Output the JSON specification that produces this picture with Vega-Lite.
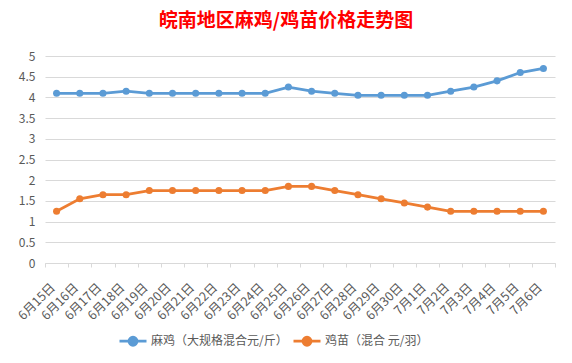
{
  "$schema": "https://vega.github.io/schema/vega-lite/v6.json",
  "autosize": "none",
  "width": 510,
  "height": 207,
  "padding": {"left": 45, "top": 56, "right": 17, "bottom": 100},
  "background": "white",
  "config": {
    "font": "Noto Sans CJK SC",
    "view": {"stroke": null}
  },
  "title": {
    "text": "皖南地区麻鸡/鸡苗价格走势图",
    "color": "#FF0000",
    "fontSize": 19,
    "fontWeight": "bold",
    "font": "Noto Sans CJK SC",
    "anchor": "middle",
    "dx": -14,
    "offset": 19
  },
  "data": {
    "values": [
      {"date": "6月15日", "series": "麻鸡（大规格混合元/斤）", "price": 4.1},
      {"date": "6月16日", "series": "麻鸡（大规格混合元/斤）", "price": 4.1},
      {"date": "6月17日", "series": "麻鸡（大规格混合元/斤）", "price": 4.1},
      {"date": "6月18日", "series": "麻鸡（大规格混合元/斤）", "price": 4.15},
      {"date": "6月19日", "series": "麻鸡（大规格混合元/斤）", "price": 4.1},
      {"date": "6月20日", "series": "麻鸡（大规格混合元/斤）", "price": 4.1},
      {"date": "6月21日", "series": "麻鸡（大规格混合元/斤）", "price": 4.1},
      {"date": "6月22日", "series": "麻鸡（大规格混合元/斤）", "price": 4.1},
      {"date": "6月23日", "series": "麻鸡（大规格混合元/斤）", "price": 4.1},
      {"date": "6月24日", "series": "麻鸡（大规格混合元/斤）", "price": 4.1},
      {"date": "6月25日", "series": "麻鸡（大规格混合元/斤）", "price": 4.25},
      {"date": "6月26日", "series": "麻鸡（大规格混合元/斤）", "price": 4.15},
      {"date": "6月27日", "series": "麻鸡（大规格混合元/斤）", "price": 4.1},
      {"date": "6月28日", "series": "麻鸡（大规格混合元/斤）", "price": 4.05},
      {"date": "6月29日", "series": "麻鸡（大规格混合元/斤）", "price": 4.05},
      {"date": "6月30日", "series": "麻鸡（大规格混合元/斤）", "price": 4.05},
      {"date": "7月1日", "series": "麻鸡（大规格混合元/斤）", "price": 4.05},
      {"date": "7月2日", "series": "麻鸡（大规格混合元/斤）", "price": 4.15},
      {"date": "7月3日", "series": "麻鸡（大规格混合元/斤）", "price": 4.25},
      {"date": "7月4日", "series": "麻鸡（大规格混合元/斤）", "price": 4.4},
      {"date": "7月5日", "series": "麻鸡（大规格混合元/斤）", "price": 4.6},
      {"date": "7月6日", "series": "麻鸡（大规格混合元/斤）", "price": 4.7},
      {"date": "6月15日", "series": "鸡苗（混合 元/羽）", "price": 1.25},
      {"date": "6月16日", "series": "鸡苗（混合 元/羽）", "price": 1.55},
      {"date": "6月17日", "series": "鸡苗（混合 元/羽）", "price": 1.65},
      {"date": "6月18日", "series": "鸡苗（混合 元/羽）", "price": 1.65},
      {"date": "6月19日", "series": "鸡苗（混合 元/羽）", "price": 1.75},
      {"date": "6月20日", "series": "鸡苗（混合 元/羽）", "price": 1.75},
      {"date": "6月21日", "series": "鸡苗（混合 元/羽）", "price": 1.75},
      {"date": "6月22日", "series": "鸡苗（混合 元/羽）", "price": 1.75},
      {"date": "6月23日", "series": "鸡苗（混合 元/羽）", "price": 1.75},
      {"date": "6月24日", "series": "鸡苗（混合 元/羽）", "price": 1.75},
      {"date": "6月25日", "series": "鸡苗（混合 元/羽）", "price": 1.85},
      {"date": "6月26日", "series": "鸡苗（混合 元/羽）", "price": 1.85},
      {"date": "6月27日", "series": "鸡苗（混合 元/羽）", "price": 1.75},
      {"date": "6月28日", "series": "鸡苗（混合 元/羽）", "price": 1.65},
      {"date": "6月29日", "series": "鸡苗（混合 元/羽）", "price": 1.55},
      {"date": "6月30日", "series": "鸡苗（混合 元/羽）", "price": 1.45},
      {"date": "7月1日", "series": "鸡苗（混合 元/羽）", "price": 1.35},
      {"date": "7月2日", "series": "鸡苗（混合 元/羽）", "price": 1.25},
      {"date": "7月3日", "series": "鸡苗（混合 元/羽）", "price": 1.25},
      {"date": "7月4日", "series": "鸡苗（混合 元/羽）", "price": 1.25},
      {"date": "7月5日", "series": "鸡苗（混合 元/羽）", "price": 1.25},
      {"date": "7月6日", "series": "鸡苗（混合 元/羽）", "price": 1.25}
    ]
  },
  "encoding": {
    "x": {
      "field": "date",
      "type": "nominal",
      "sort": null,
      "scale": {"type": "band", "paddingInner": 0, "paddingOuter": 0},
      "axis": {
        "title": null,
        "labelAngle": -45,
        "labelAlign": "right",
        "labelBaseline": "middle",
        "labelPadding": 18,
        "labelOffset": -4,
        "labelFontSize": 12.5,
        "labelColor": "#595959",
        "domainColor": "#D9D9D9",
        "tickColor": "#D9D9D9",
        "tickSize": 4,
        "tickBand": "extent",
        "grid": false
      }
    },
    "y": {
      "field": "price",
      "type": "quantitative",
      "scale": {"domain": [0, 5], "nice": false},
      "axis": {
        "title": null,
        "values": [0, 0.5, 1, 1.5, 2, 2.5, 3, 3.5, 4, 4.5, 5],
        "format": "~g",
        "domain": false,
        "ticks": false,
        "labelPadding": 10,
        "labelFontSize": 12,
        "labelColor": "#595959",
        "gridColor": "#D9D9D9",
        "gridWidth": 1
      }
    },
    "color": {
      "field": "series",
      "type": "nominal",
      "sort": null,
      "scale": {"range": ["#5B9BD5", "#ED7D31"]},
      "legend": {
        "title": null,
        "orient": "none",
        "legendX": 73,
        "legendY": 270,
        "direction": "horizontal",
        "labelFontSize": 12,
        "labelColor": "#595959",
        "symbolType": "M-1,0L1,0M-0.3,0A0.3,0.3,0,1,1,0.3,0A0.3,0.3,0,1,1,-0.3,0Z",
        "symbolSize": 729,
        "symbolStrokeWidth": 2.75,
        "columnPadding": 0,
        "labelOffset": 3,
        "encode": {
          "symbols": {"update": {"fill": {"scale": "color", "field": "value"}}}
        }
      }
    }
  },
  "layer": [
    {"mark": {"type": "line", "strokeWidth": 2.75}},
    {"mark": {"type": "point", "filled": true, "opacity": 1, "size": 50}}
  ]
}
